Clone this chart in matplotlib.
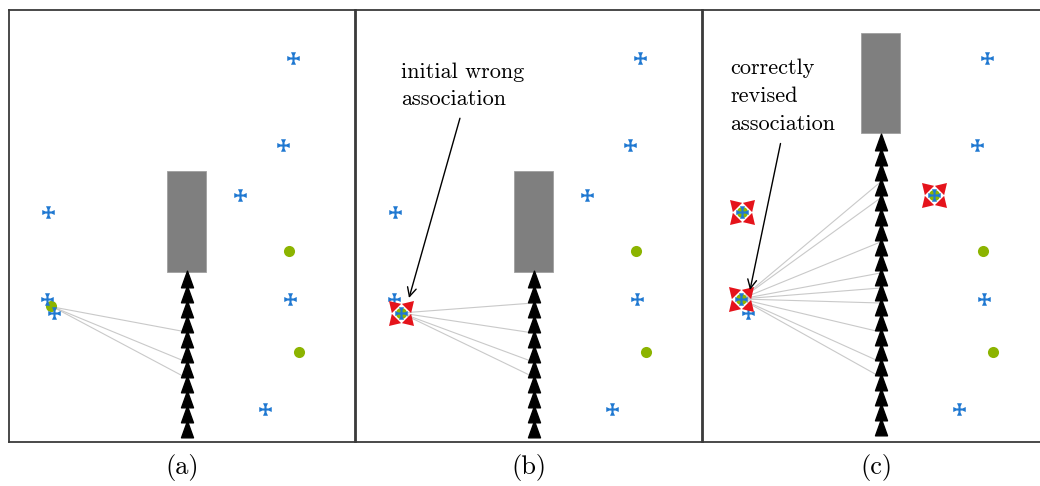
"""
Three-panel sketch of a measurement-to-landmark association, (a) raw,
(b) initial wrong association, (c) corrected association.
All positions are given in panel-local pixel units (x right, y down).
"""
import numpy as np
import matplotlib
matplotlib.use("Agg")
import matplotlib.pyplot as plt
from matplotlib.path import Path
from matplotlib.patches import Rectangle

plt.rcParams["font.family"] = ["cmr10", "DejaVu Serif"]
plt.rcParams["axes.unicode_minus"] = False

# =============================
#  Data (panel-local coords)
# =============================
PANEL_W, PANEL_H = 346, 432
PANEL_LABELS = ["(a)", "(b)", "(c)"]

# landmarks (blue crosses), same in every panel
CROSS_X = [284, 274, 231, 39, 38, 45, 281, 256]
CROSS_Y = [48, 135, 185, 202, 289, 303, 289, 399]

# green measurements
GREEN_A_X, GREEN_A_Y = [42, 280, 290], [296, 241, 342]
GREEN_B_X, GREEN_B_Y = [45, 280, 290], [303, 241, 342]
GREEN_C_X, GREEN_C_Y = [39, 38, 231, 280, 290], [202, 289, 185, 241, 342]

# red "associated" markers
RED_B_X, RED_B_Y = [45], [303]
RED_C_X, RED_C_Y = [39, 38, 231], [202, 289, 185]

# vehicle: grey body + trail of triangles
TRAIL_X = 177.5
TRAIL_AB = [269.5, 284.5, 299.5, 314.5, 329.5, 344.5, 359.5, 374.5, 389.5, 404.5, 419.5]
TRAIL_C = [132.5, 147.5, 162.5, 177.5, 192.5, 207.5, 222.5, 237.5, 252.5, 267.5,
           282.5, 297.5, 312.5, 327.5, 342.5, 357.5, 372.5, 387.5, 402.5, 417.5]
BODY_AB = (158, 161, 39, 101)   # x, y, w, h
BODY_C = (158, 23, 39, 100)

# observation rays: source point -> y on the trail
RAY_SRC_A, RAY_HITS_A = (44, 297), [322, 352, 368]
RAY_SRC_B, RAY_HITS_B = (45, 303), [293, 323, 352, 367]
RAY_SRC_C, RAY_HITS_C = (38, 289), [172, 188, 232, 263, 278, 293, 322, 352, 367]

BLUE = "#1f78d1"
GREEN = "#8cb400"
RED = "#e5131b"
GREY = "#7f7f7f"


# =============================
#  Custom markers
# =============================
def cross_marker():
    s, a, f = 0.17, 0.5, 0.4
    pts = [(-s, s), (-s, a), (-f, 1), (f, 1), (s, a), (s, s),
           (a, s), (1, f), (1, -f), (a, -s), (s, -s),
           (s, -a), (f, -1), (-f, -1), (-s, -a), (-s, -s),
           (-a, -s), (-1, -f), (-1, f), (-a, s), (-s, s)]
    codes = [Path.MOVETO] + [Path.LINETO] * (len(pts) - 2) + [Path.CLOSEPOLY]
    return Path(pts, codes)


def red_marker():
    # four arrowheads pointing outward along the diagonals
    verts, codes = [], []
    for ang in (45, 135, 225, 315):
        t = np.deg2rad(ang)
        d = np.array([np.cos(t), np.sin(t)])
        p = np.array([-d[1], d[0]])
        tip = 1.0 * d
        base = 0.4 * d
        for v, c in ((tip, Path.MOVETO), (base + 0.37 * p, Path.LINETO),
                     (base - 0.37 * p, Path.LINETO), (tip, Path.CLOSEPOLY)):
            verts.append(tuple(v))
            codes.append(c)
    return Path(verts, codes)


TRI = Path([(0, 1), (-0.72, -1), (0.72, -1), (0, 1)],
           [Path.MOVETO, Path.LINETO, Path.LINETO, Path.CLOSEPOLY])
CROSS = cross_marker()
REDX = red_marker()


def draw_panel(ax, body, trail, src, hits, gx, gy, rx, ry):
    ax.set_xlim(0, PANEL_W)
    ax.set_ylim(PANEL_H, 0)
    ax.set_xticks([]); ax.set_yticks([])
    for sp in ax.spines.values():
        sp.set_color("#3a3a3a")
        sp.set_linewidth(1.3)

    for hy in hits:
        ax.plot([src[0], TRAIL_X], [src[1], hy], color="#c9c9c9", lw=0.8, zorder=1)

    bx, by, bw, bh = body
    ax.add_patch(Rectangle((bx, by), bw, bh, facecolor=GREY, edgecolor="#a0a0a0",
                           lw=0.6, zorder=2))
    ax.plot([TRAIL_X] * len(trail), trail, ls="none", marker=TRI, ms=12,
            color="black", zorder=3)

    ax.plot(gx, gy, ls="none", marker="o", ms=8, color=GREEN, mew=0, zorder=4)
    ax.plot(CROSS_X, CROSS_Y, ls="none", marker=CROSS, ms=9, color=BLUE,
            mew=0, zorder=5)
    if rx:
        ax.plot(rx, ry, ls="none", marker=REDX, ms=18, color=RED, mew=0, zorder=6)


fig = plt.figure(figsize=(10.4, 4.86), dpi=100)
W, H = 1040, 486
lefts = [9, 356, 703]
axes = [fig.add_axes([l / W, (H - 442) / H, PANEL_W / W, PANEL_H / H]) for l in lefts]

draw_panel(axes[0], BODY_AB, TRAIL_AB, RAY_SRC_A, RAY_HITS_A,
           GREEN_A_X, GREEN_A_Y, [], [])
draw_panel(axes[1], BODY_AB, TRAIL_AB, RAY_SRC_B, RAY_HITS_B,
           GREEN_B_X, GREEN_B_Y, RED_B_X, RED_B_Y)
draw_panel(axes[2], BODY_C, TRAIL_C, RAY_SRC_C, RAY_HITS_C,
           GREEN_C_X, GREEN_C_Y, RED_C_X, RED_C_Y)

# annotations
axes[1].annotate("initial wrong\nassociation", xy=(53, 288), xytext=(45, 52),
                 ha="left", va="top", fontsize=16, linespacing=1.5,
                 arrowprops=dict(arrowstyle="->", color="black", lw=1,
                                 shrinkA=5, shrinkB=0, relpos=(0.5, 0)),
                 zorder=7)
axes[2].annotate("correctly\nrevised\nassociation", xy=(47, 280), xytext=(27, 48),
                 ha="left", va="top", fontsize=16, linespacing=1.56,
                 arrowprops=dict(arrowstyle="->", color="black", lw=1,
                                 shrinkA=5, shrinkB=0, relpos=(0.5, 0)),
                 zorder=7)

for ax, lab, l in zip(axes, PANEL_LABELS, lefts):
    fig.text((l + PANEL_W / 2) / W, 1 - 467 / H, lab, ha="center", va="center",
             fontsize=19)

fig.savefig("out.png", dpi=100)
